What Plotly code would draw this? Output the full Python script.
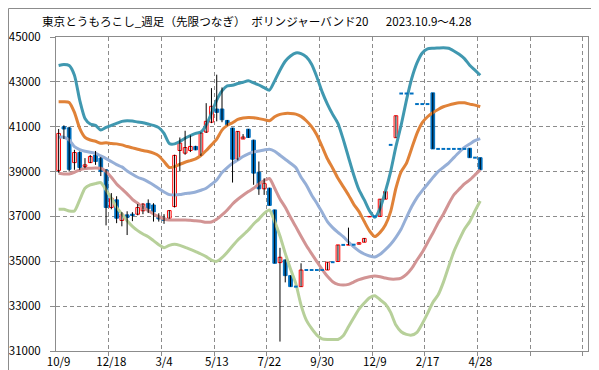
import plotly.graph_objects as go

title_text = "東京とうもろこし_週足（先限つなぎ）　ボリンジャーバンド20\u3000\u20022023.10.9～4.28"
tick_labels = ["10/9", "12/18", "3/4", "5/13", "7/22", "9/30", "12/9", "2/17", "4/28"]
label_step = 10
n_slots = 101  # weekly category slots shown on the axis

open_ = [39050, 41000, 40950, 39400, 39850, 39230, 39400, 39740, 39600, 39080,
         37400, 37740, 36820, 37070, 37100, 37100, 37250, 37580, 37510, 36990,
         36920, 36920, 37440, 39940, 39820, 39940, 40120, 39720, 40760, 41200,
         41790, 41790, 41280, 40940, 39550, 40450, 40890, 40400, 38970, 38230,
         38260, 37290, 34940, 35060, 34360, 33870, 33870, 34610, 34610, 34610,
         34610, 34610, 34960, 34990, 35730, 35720, 35740, 35760, 35850, 36980,
         37000, 37000, 37770, 40190, 40510, 42480, 42480, 42480, 42010, 42010,
         42010, 42510, 40010, 40010, 40010, 40010, 40010, 40010, 40040, 39620,
         39620]
high = [40900, 41060, 41000, 39970, 39900, 39600, 39740, 39920, 39650, 39100,
        38040, 37900, 37190, 37230, 37190, 37550, 37590, 37760, 37590, 37140,
        37100, 37280, 39750, 40520, 40820, 40610, 40150, 40750, 42050, 42720,
        43320, 42750, 41300, 40950, 40800, 40670, 40900, 40420, 39450, 38700,
        38280, 37300, 35600, 35080, 34370, 33870, 34910, 34610, 34610, 34610,
        34610, 34960, 34960, 35730, 35730, 36500, 35740, 35830, 36030, 37000,
        37000, 37770, 38110, 40190, 41490, 42480, 42480, 42480, 42010, 42010,
        42010, 42510, 40010, 40010, 40010, 40010, 40010, 40010, 40040, 39620,
        39620]
low = [38950, 40450, 39000, 39080, 39080, 39150, 39380, 39300, 38800, 36600,
       37320, 36700, 36560, 36170, 36790, 37050, 37100, 37150, 36770, 36770,
       36670, 36900, 37400, 39000, 39750, 39870, 39950, 39700, 40720, 41160,
       41240, 41200, 41050, 38510, 39500, 40450, 40500, 38410, 37960, 37960,
       37490, 34910, 31420, 34060, 33870, 33870, 33870, 34610, 34610, 34610,
       34610, 34610, 34960, 34990, 35730, 35720, 35740, 35760, 35850, 36980,
       37000, 37000, 37770, 40190, 40510, 42480, 42480, 42480, 42010, 42010,
       42010, 40010, 40010, 40010, 40010, 40010, 40010, 40010, 39620, 39620,
       39080]
close = [40700, 40900, 39100, 39850, 39180, 39300, 39670, 39450, 39000, 37400,
         37810, 36920, 37100, 36950, 37040, 37400, 37550, 37340, 37200, 36890,
         36820, 37260, 39720, 40270, 40070, 40120, 39970, 40720, 41240, 41910,
         41640, 41310, 41090, 39550, 40790, 40540, 40520, 38930, 38230, 38480,
         37490, 34910, 35180, 34360, 33870, 33870, 34610, 34610, 34610, 34610,
         34610, 34960, 34960, 35730, 35730, 35745, 35740, 35830, 36020, 37000,
         37000, 37770, 38110, 40190, 41490, 42480, 42480, 42480, 42010, 42010,
         42010, 40010, 40010, 40010, 40010, 40010, 40010, 40010, 39620, 39620,
         39080]

upper2 = [43726, 43770, 43726, 43296, 42185, 41370, 41120, 41060, 40850, 40970,
          41060, 41150, 41240, 41270, 41250, 41210, 41180, 41120, 41060, 40960,
          40700, 40250, 40235, 40340, 40485, 40600, 40700, 40760, 41075, 41600,
          42185, 42600, 42820, 42850, 42925, 42985, 43045, 42955, 42860, 42740,
          42630, 43045, 43520, 43920, 44155, 44290, 44260, 44110, 43785, 43220,
          42555, 42010, 41550, 41150, 40440, 39640, 38850, 38180, 37735, 37245,
          36960, 37360, 38110, 39000, 40110, 41075, 42185, 43150, 43845, 44290,
          44466, 44496, 44510, 44525, 44496, 44377, 44230, 44037, 43740, 43520,
          43296]
upper1 = [42111, 42111, 42080, 41637, 40926, 40527, 40408, 40350, 40260, 40280,
          40250, 40235, 40190, 40116, 40056, 39997, 39937, 39893, 39818, 39700,
          39446, 39180, 39223, 39327, 39417, 39490, 39565, 39714, 39937, 40190,
          40450, 40850, 41060, 41180, 41326, 41386, 41415, 41400, 41360, 41315,
          41267, 41445, 41550, 41593, 41593, 41563, 41460, 41267, 41000, 40630,
          40110, 39570, 39150, 38700, 38330, 37960, 37540, 37215, 36770, 36350,
          36100, 36290, 36620, 37215, 38256, 39000, 39370, 40040, 40705, 41180,
          41445, 41623, 41770, 41890, 41963, 42022, 42067, 42067, 42008, 41963,
          41890]
middle = [40533, 40533, 40414, 40116, 39982, 39908, 39863, 39818, 39700, 39580,
          39446, 39312, 39208, 39030, 38880, 38747, 38658, 38540, 38405, 38240,
          38092, 37973, 37958, 37973, 38018, 38048, 38092, 38167, 38256, 38435,
          38628, 38955, 39180, 39372, 39520, 39670, 39790, 39878, 39920, 39965,
          39994, 39905, 39727, 39550, 39371, 39179, 38750, 38400, 37960, 37590,
          37185, 36770, 36500, 36290, 36100, 35860, 35640, 35460, 35325, 35235,
          35190, 35310, 35520, 35760, 36070, 36440, 36950, 37440, 37840, 38150,
          38435, 38730, 39000, 39190, 39380, 39623, 39860, 40080, 40230, 40380,
          40470]
lower1 = [38926, 38896, 38896, 38970, 39074, 39134, 39149, 39164, 39149, 39000,
          38747, 38450, 38226, 38003, 37765, 37586, 37408, 37259, 37110, 36991,
          36887, 36842, 36842, 36842, 36842, 36827, 36812, 36783, 36738, 36753,
          36872, 37066, 37290, 37557, 37765, 37944, 38107, 38256, 38450, 38600,
          38690, 38256, 37780, 37408, 36960, 36545, 36113, 35700, 35340, 34985,
          34640, 34330, 34090, 33970, 33940, 33970, 34075, 34180, 34253, 34313,
          34343, 34313, 34253, 34209, 34209, 34253, 34417, 34685, 35057, 35400,
          35830, 36247, 36710, 37095, 37557, 37960, 38210, 38450, 38630, 38850,
          39075]
lower2 = [37319, 37319, 37244, 37244, 37735, 38256, 38405, 38464, 38510, 38180,
          37810, 37408, 37110, 36812, 36560, 36366, 36217, 36098, 35920, 35740,
          35607, 35711, 35756, 35711, 35622, 35533, 35430, 35325, 35206, 35057,
          34997, 35160, 35400, 35682, 35950, 36170, 36396, 36664, 36880, 37140,
          37289, 36768, 36128, 35354, 34655, 34015, 33048, 32378, 32006, 31710,
          31545, 31515, 31515, 31515, 31680, 32080, 32483, 32870, 33140, 33375,
          33465, 33286, 33093, 32720, 32155, 31858, 31740, 31710, 31830, 32215,
          32676, 33167, 33494, 34060, 34760, 35430, 35950, 36426, 36768, 37244,
          37690]

y_min, y_max, y_step = 31000, 45000, 2000

n = len(close)
weeks = list(range(n))

band_specs = [
    (upper2, "#4098B0"),
    (upper1, "#E08238"),
    (middle, "#96AFD7"),
    (lower1, "#D29494"),
    (lower2, "#B7D09A"),
]

fig = go.Figure()

for vals, col in band_specs:
    fig.add_trace(go.Scatter(x=weeks, y=vals, mode="lines",
                             line=dict(color=col, width=3, shape="spline", smoothing=0.6),
                             hoverinfo="skip", showlegend=False))

# wicks
wx, wy = [], []
for i in weeks:
    if high[i] > low[i]:
        wx += [i, i, None]
        wy += [low[i], high[i], None]
fig.add_trace(go.Scatter(x=wx, y=wy, mode="lines", line=dict(color="#000000", width=1),
                         hoverinfo="skip", showlegend=False))

body_w = 0.7
up = [i for i in weeks if close[i] > open_[i]]
dn = [i for i in weeks if close[i] < open_[i]]
fl = [i for i in weeks if close[i] == open_[i]]

fig.add_trace(go.Bar(x=up, base=[open_[i] for i in up], y=[close[i] - open_[i] for i in up],
                     width=body_w, marker=dict(color="#FFFFFF", line=dict(color="#FF0000", width=1)),
                     hoverinfo="skip", showlegend=False))
fig.add_trace(go.Bar(x=dn, base=[close[i] for i in dn], y=[open_[i] - close[i] for i in dn],
                     width=body_w, marker=dict(color="#0070C0", line=dict(color="#0070C0", width=1)),
                     hoverinfo="skip", showlegend=False))
fx, fy = [], []
for i in fl:
    fx += [i - body_w / 2, i + body_w / 2, None]
    fy += [close[i], close[i], None]
fig.add_trace(go.Scatter(x=fx, y=fy, mode="lines", line=dict(color="#0070C0", width=2),
                         hoverinfo="skip", showlegend=False))

W, H = 599, 370
ml, mr, mt, mb = 48, 19, 29, 27
pw, ph = W - ml - mr, H - mt - mb

grid_col = "#8C8C8C"
axis_col = "#8C8C8C"
tick_font = dict(family="Noto Sans CJK JP", size=11.5, color="#000000")

fig.update_layout(
    width=W, height=H,
    margin=dict(l=ml, r=mr, t=mt, b=mb, pad=0, autoexpand=False),
    paper_bgcolor="#FFFFFF", plot_bgcolor="#FFFFFF",
    barmode="overlay", showlegend=False,
    xaxis=dict(
        automargin=False,
        range=[-0.5, n_slots - 0.55],
        tickmode="array",
        tickvals=[k * label_step for k in range(len(tick_labels))],
        ticktext=tick_labels,
        ticks="", showgrid=False, zeroline=False,
        showline=True, linecolor=axis_col, linewidth=1, mirror=True,
        tickfont=tick_font,
        minor=dict(tickmode="array",
                   tickvals=[k * label_step - 0.5 for k in range(1, n_slots // label_step + 1)],
                   ticks="outside", ticklen=4, tickcolor=axis_col,
                   showgrid=True, gridcolor=grid_col, griddash="4px,3px", gridwidth=1),
    ),
    yaxis=dict(
        automargin=False,
        range=[y_min, y_max], tickmode="linear", tick0=y_min, dtick=y_step,
        tickformat="d",
        ticks="outside", ticklen=5, tickcolor=axis_col,
        showgrid=True, gridcolor=grid_col, griddash="4px,3px", gridwidth=1,
        zeroline=False, showline=True, linecolor=axis_col, linewidth=1, mirror=True,
        tickfont=tick_font, ticklabelstandoff=7,
    ),
    annotations=[dict(
        text=title_text, xref="paper", yref="paper",
        x=(32 - ml) / pw, y=1 + (mt - 13) / ph, xanchor="left", yanchor="middle",
        showarrow=False, font=dict(family="Noto Sans CJK JP", size=11.6, color="#000000"),
    )],
    shapes=[dict(
        type="rect", xref="paper", yref="paper",
        x0=(0.5 - ml) / pw, x1=(W - 0.5 - ml) / pw,
        y0=-(H - 0.5 - mt - ph) / ph, y1=1 + (mt - 0.5) / ph,
        line=dict(color="#8C8C8C", width=1), layer="above",
    )],
)

fig.write_html("out.html")
